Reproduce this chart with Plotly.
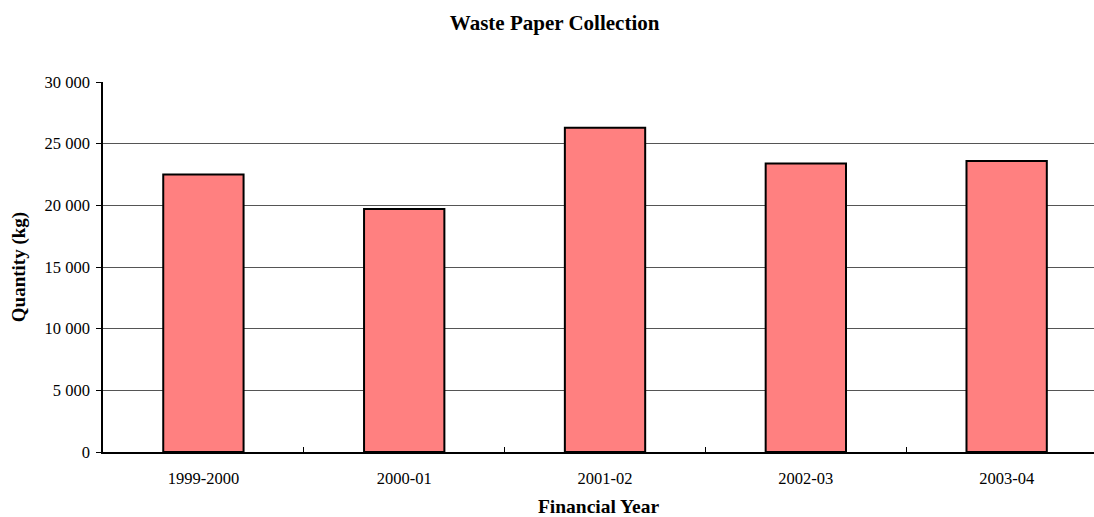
import plotly.graph_objects as go

# Annual waste paper collection by financial year
years = ["1999-2000", "2000-01", "2001-02", "2002-03", "2003-04"]
quantity_kg = [22500, 19700, 26300, 23400, 23600]

y_ticks = [0, 5000, 10000, 15000, 20000, 25000, 30000]

serif = "Liberation Serif, Times New Roman, serif"

fig = go.Figure(
    go.Bar(
        x=years,
        y=quantity_kg,
        width=0.4,
        marker=dict(color="#FF8080", line=dict(color="black", width=2)),
    )
)

fig.update_layout(
    width=1094,
    height=517,
    margin=dict(l=103, r=0, t=82, b=65),
    paper_bgcolor="white",
    plot_bgcolor="white",
    separators=". ",
    showlegend=False,
    font=dict(family=serif, color="black", size=16),
    title=dict(
        text="<b>Waste Paper Collection</b>",
        x=0.507,
        xref="container",
        xanchor="center",
        y=0.957,
        yref="container",
        yanchor="middle",
        font=dict(family=serif, size=21, color="black"),
    ),
    bargap=0.6,
)

fig.update_xaxes(
    type="category",
    range=[-0.5, 4.435],
    tickson="boundaries",
    ticks="inside",
    ticklen=5,
    tickcolor="black",
    showline=True,
    linecolor="black",
    linewidth=1.5,
    showgrid=False,
    ticklabelstandoff=10,
    tickfont=dict(family=serif, size=16.5),
    title=dict(text="<b>Financial Year</b>", font=dict(family=serif, size=19.5), standoff=14),
)

fig.update_yaxes(
    range=[0, 30000],
    tickmode="array",
    tickvals=y_ticks,
    tickformat=",d",
    ticks="outside",
    ticklen=5,
    tickcolor="black",
    showline=True,
    linecolor="black",
    linewidth=1.5,
    showgrid=True,
    gridcolor="#555555",
    gridwidth=1,
    zeroline=False,
    ticklabelstandoff=3,
    tickfont=dict(family=serif, size=16.5),
    title=dict(text="<b>Quantity (kg)</b>", font=dict(family=serif, size=19), standoff=14),
)

fig.write_html("out.html")
